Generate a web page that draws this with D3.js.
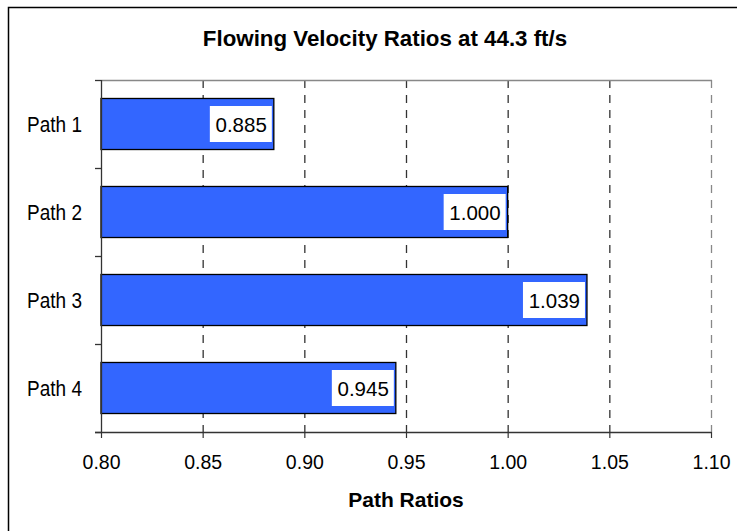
<!DOCTYPE html>
<html>
<head>
<meta charset="utf-8">
<script src="https://cdn.jsdelivr.net/npm/d3@7"></script>
<style>
  body { margin: 0; background: #fff; }
  text { font-family: "Liberation Sans", Arial, sans-serif; }
</style>
</head>
<body>
<svg width="737" height="531"></svg>
<script>
const categories = ["Path 1", "Path 2", "Path 3", "Path 4"];
const ratios = [0.885, 1.000, 1.039, 0.945];
const xTicks = [0.80, 0.85, 0.90, 0.95, 1.00, 1.05, 1.10];

const svg = d3.select("svg");
const plotL = 101, plotR = 711, plotT = 80, plotB = 432;

// outer frame (only top and left visible)
svg.append("path").attr("d", "M8.5,531 V7.5 H737").attr("fill", "none").attr("stroke", "#000").attr("stroke-width", 1.5);

const x = d3.scaleLinear().domain([0.8, 1.1]).range([plotL, plotR]);
const y = d3.scaleBand().domain(categories).range([plotT, plotB]).paddingInner(0.42).paddingOuter(0.21);
const yTicks = d3.scaleBand().domain(categories).range([plotT, plotB]);

svg.append("text").attr("x", 385).attr("y", 46).attr("text-anchor", "middle")
  .attr("font-size", 22.3).attr("font-weight", "bold").text("Flowing Velocity Ratios at 44.3 ft/s");

// gridlines
svg.selectAll("line.grid").data(xTicks.slice(1)).enter().append("line")
  .attr("x1", d => x(d) + 0.5).attr("x2", d => x(d) + 0.5)
  .attr("y1", plotT).attr("y2", plotB)
  .attr("stroke", (d, i) => i === xTicks.length - 2 ? "#888" : "#333")
  .attr("stroke-width", 1.3).attr("stroke-dasharray", "8,7");

// plot border top
svg.append("line").attr("x1", plotL).attr("x2", plotR + 1).attr("y1", plotT + 0.5).attr("y2", plotT + 0.5)
  .attr("stroke", "#888").attr("stroke-width", 1.3);

// bars
svg.selectAll("rect.bar").data(ratios).enter().append("rect")
  .attr("x", plotL)
  .attr("y", (d, i) => y(categories[i]))
  .attr("width", d => x(d) - plotL)
  .attr("height", y.bandwidth())
  .attr("fill", "#3366FF").attr("stroke", "#000").attr("stroke-width", 1.3);

// value labels
const lab = svg.selectAll("g.lab").data(ratios).enter().append("g")
  .attr("transform", (d, i) => `translate(${x(d) - 2},${y(categories[i]) + y.bandwidth() / 2})`);
lab.append("rect").attr("x", -62).attr("y", -18).attr("width", 62).attr("height", 36).attr("fill", "#fff");
lab.append("text").attr("x", -5).attr("y", 7.5).attr("text-anchor", "end").attr("font-size", 20.5)
  .text(d => d.toFixed(3));

// bottom axis
const xAxis = svg.append("g").attr("transform", `translate(0,${plotB})`)
  .call(d3.axisBottom(x).tickValues(xTicks).tickFormat(d3.format(".2f")).tickSize(6).tickSizeOuter(0));
xAxis.select(".domain").attr("stroke", "#333").attr("stroke-width", 1.3).attr("d", `M${plotL - 6},0.5H${plotR + 0.5}`);
xAxis.selectAll(".tick line").attr("stroke", "#333").attr("stroke-width", 1.2);
xAxis.selectAll(".tick text").attr("font-size", 19.5).attr("y", 37).attr("dy", null).attr("fill", "#000")
  .style("font-family", '"Liberation Sans", Arial, sans-serif');

// left axis
svg.append("line").attr("x1", plotL + 0.5).attr("x2", plotL + 0.5).attr("y1", plotT).attr("y2", plotB)
  .attr("stroke", "#333").attr("stroke-width", 1.3);
const catTicks = categories.map(c => yTicks(c)).concat([plotB]);
svg.selectAll("line.ytick").data(catTicks).enter().append("line")
  .attr("x1", plotL - 6).attr("x2", plotL).attr("y1", d => d + 0.5).attr("y2", d => d + 0.5)
  .attr("stroke", "#333").attr("stroke-width", 1.3);
svg.selectAll("text.cat").data(categories).enter().append("text")
  .attr("transform", d => `translate(82,${y(d) + y.bandwidth() / 2 + 7.5}) scale(1,1.12)`)
  .attr("text-anchor", "end").attr("font-size", 19).text(d => d);

svg.append("text").attr("x", 406).attr("y", 507).attr("text-anchor", "middle")
  .attr("font-size", 21).attr("font-weight", "bold").text("Path Ratios");
</script>
</body>
</html>
